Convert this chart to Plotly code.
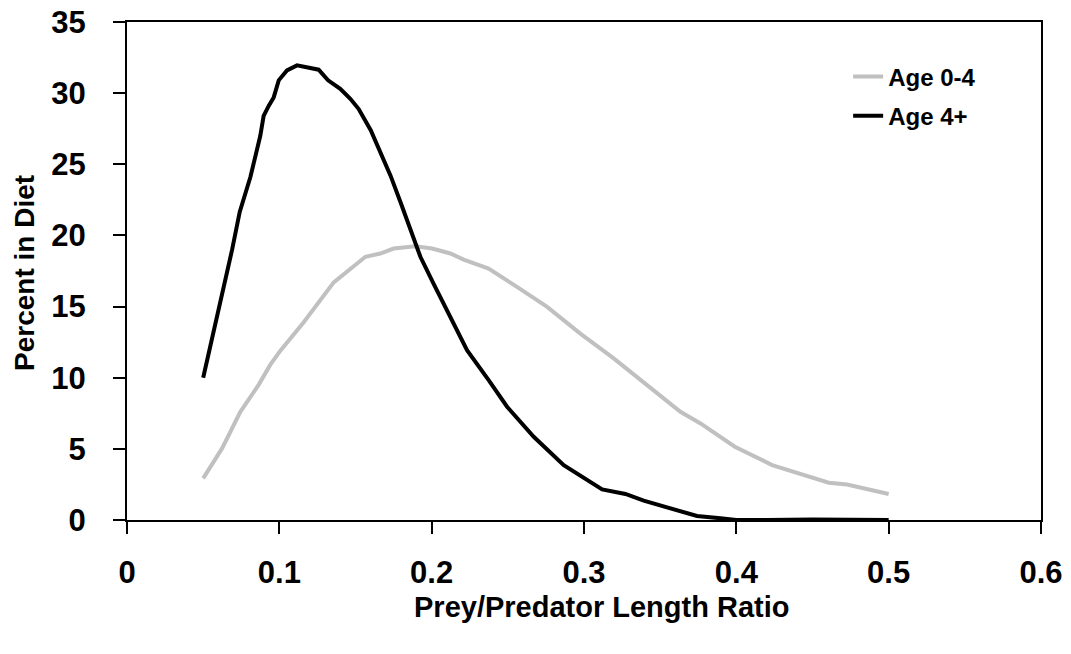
import plotly.graph_objects as go

# Age 0-4 (grey curve)
x_young = [0.05, 0.0624, 0.0744, 0.0864, 0.094, 0.1007, 0.116, 0.1357, 0.1565, 0.1663,
           0.175, 0.1893, 0.2003, 0.2123, 0.221, 0.2374, 0.256, 0.2758, 0.2976, 0.3195,
           0.3414, 0.3633, 0.3765, 0.399, 0.4235, 0.4508, 0.4607, 0.4727, 0.5]
y_young = [2.93, 5.03, 7.6, 9.5, 10.9, 11.9, 13.9, 16.7, 18.5, 18.73,
           19.08, 19.24, 19.08, 18.73, 18.3, 17.67, 16.38, 14.98, 13.1, 11.36,
           9.48, 7.6, 6.79, 5.15, 3.86, 2.93, 2.62, 2.5, 1.83]

# Age 4+ (black curve)
x_old = [0.05, 0.0569, 0.0624, 0.069, 0.074, 0.081, 0.0875, 0.0897, 0.093, 0.0963,
         0.0996, 0.105, 0.1116, 0.1258, 0.132, 0.140, 0.1466, 0.152, 0.160, 0.168,
         0.173, 0.1795, 0.186, 0.1926, 0.2013, 0.2123, 0.2232, 0.2374, 0.2495, 0.267,
         0.2867, 0.3119, 0.3272, 0.3392, 0.3523, 0.3742, 0.3896, 0.40, 0.42, 0.45, 0.5]
y_old = [10.0, 13.3, 15.7, 19.0, 21.65, 24.1, 27.0, 28.4, 29.1, 29.7,
         30.9, 31.6, 31.95, 31.65, 30.9, 30.3, 29.6, 28.9, 27.4, 25.5,
         24.2, 22.35, 20.4, 18.5, 16.6, 14.28, 11.94, 9.83, 7.96, 5.85,
         3.86, 2.15, 1.83, 1.36, 0.98, 0.28, 0.12, 0.0, 0.0, 0.03, 0.0]

FONT = "Liberation Sans, Arial, sans-serif"

fig = go.Figure()
fig.add_trace(go.Scatter(x=x_young, y=y_young, mode='lines', name='Age 0-4',
                         legendgroup='a', line=dict(color='#C0C0C0', width=4)))
fig.add_trace(go.Scatter(x=x_old, y=y_old, mode='lines', name='Age 4+',
                         legendgroup='b', line=dict(color='#000000', width=4)))

axis_common = dict(
    showgrid=False, zeroline=False, automargin=False, ticklabeloverflow='allow',
    showline=True, linecolor='black', linewidth=2, mirror=True,
    ticks='outside', ticklen=12, tickwidth=2, tickcolor='black',
    tickfont=dict(family=FONT, size=31, color='black', weight='bold'),
)
fig.update_xaxes(range=[0, 0.6], dtick=0.1, tick0=0, ticklabelstandoff=12, **axis_common)
fig.update_yaxes(range=[0, 35], dtick=5, tick0=0, ticklabelstandoff=21, **axis_common)

# the page body adds an 8px offset, so margins are shifted to compensate
fig.update_layout(
    width=1071, height=654,
    margin=dict(l=119, r=38, t=14, b=142),
    paper_bgcolor='white', plot_bgcolor='white',
    showlegend=True,
    legend=dict(x=0.789, y=0.935, xanchor='left', yanchor='top',
                bgcolor='rgba(0,0,0,0)', tracegroupgap=5,
                font=dict(family=FONT, size=24, color='black', weight='bold')),
    annotations=[
        dict(text='Prey/Predator Length Ratio', xref='paper', yref='paper',
             x=0.5186, y=-0.1747, xanchor='center', yanchor='middle', showarrow=False,
             font=dict(family=FONT, size=29, color='black', weight='bold')),
        dict(text='Percent in Diet', xref='paper', yref='paper', textangle=-90,
             x=-0.1116, y=0.496, xanchor='center', yanchor='middle', showarrow=False,
             font=dict(family=FONT, size=28, color='black', weight='bold')),
    ],
)

fig.write_html("out.html")
